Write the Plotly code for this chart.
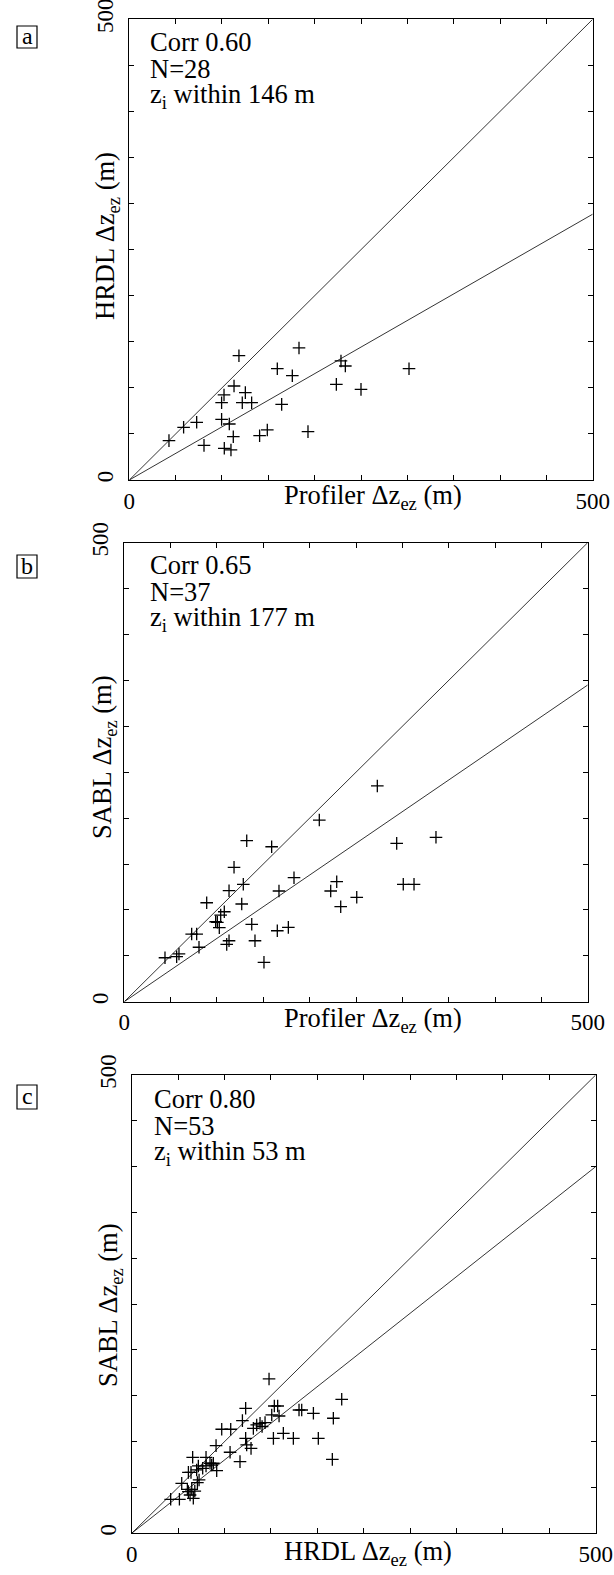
import numpy as np
import plotly.graph_objects as go

W, H = 614, 1575

# ---------------- data ----------------
a_x = [42.8, 58.6, 72.7, 80.6, 99.6, 102.2, 99.6, 107.9, 113.0, 118.3, 121.9, 125.2, 132.0, 112.2,
       102.5, 109.7, 140.6, 148.9, 159.7, 164.4, 175.9, 183.1, 192.8, 223.4, 228.4, 233.1, 250.0, 301.8]
a_y = [42.7, 57.2, 62.6, 37.6, 83.9, 92.3, 65.8, 60.8, 102.0, 134.9, 83.9, 94.8, 83.9, 47.0,
       34.4, 32.6, 48.1, 54.3, 120.8, 82.1, 113.2, 143.3, 52.5, 103.8, 129.2, 123.7, 98.4, 120.8]

b_x = [43.9, 56.5, 59.0, 72.7, 78.1, 80.6, 88.9, 98.6, 100.4, 102.5, 104.0, 107.9, 110.5, 113.0,
       113.0, 118.4, 126.7, 128.4, 132.1, 137.5, 141.0, 150.7, 159.0, 165.1, 166.9, 177.0, 183.1,
       210.4, 222.7, 229.2, 233.5, 250.8, 273.0, 293.9, 301.0, 312.6, 336.3]
b_y = [47.9, 49.0, 52.0, 73.7, 73.7, 59.3, 107.8, 87.1, 86.5, 80.6, 94.4, 98.0, 62.5, 66.4,
       120.9, 146.4, 106.4, 127.9, 175.4, 84.3, 66.4, 42.9, 168.8, 77.3, 120.6, 81.0, 135.1,
       197.9, 120.6, 130.7, 103.5, 113.7, 235.0, 172.5, 127.9, 127.9, 179.1]

c_x = [42.0, 51.4, 53.9, 60.0, 61.1, 62.9, 64.7, 61.1, 65.7, 63.9, 70.0, 71.8, 70.8, 72.6,
       80.1, 80.1, 84.4, 86.2, 88.0, 91.6, 90.9, 97.0, 106.7, 106.0, 116.7, 119.3, 122.8, 122.8,
       123.9, 128.6, 131.1, 134.7, 138.3, 143.7, 148.0, 150.9, 152.7, 153.7, 157.3, 158.8, 163.4,
       174.2, 180.3, 183.2, 195.8, 201.1, 216.2, 217.3, 226.3, 66.4, 76.5, 140.5, 68.0]
c_y = [37.1, 37.1, 54.5, 48.0, 45.5, 41.8, 48.0, 66.5, 82.9, 66.5, 69.1, 73.5, 55.3, 58.2,
       82.9, 73.5, 76.4, 74.5, 76.4, 68.4, 95.6, 113.5, 113.5, 88.4, 78.2, 122.9, 136.4, 103.6,
       96.4, 92.7, 114.5, 118.2, 120.0, 120.7, 168.4, 129.1, 103.6, 138.9, 138.9, 128.0, 109.1,
       103.6, 134.5, 134.5, 130.9, 103.6, 80.7, 125.5, 146.2, 38.2, 70.9, 116.5, 46.0]

fit_slope = [0.577, 0.69, 0.80]
panel_letters = ["a", "b", "c"]
corr_text = ["Corr 0.60", "Corr 0.65", "Corr 0.80"]
n_text = ["N=28", "N=37", "N=53"]
zi_text = ["z<sub>i</sub> within 146 m", "z<sub>i</sub> within 177 m", "z<sub>i</sub> within 53 m"]
x_titles = ["Profiler Δz<sub>ez</sub> (m)", "Profiler Δz<sub>ez</sub> (m)", "HRDL Δz<sub>ez</sub> (m)"]
y_titles = ["HRDL Δz<sub>ez</sub> (m)", "SABL Δz<sub>ez</sub> (m)", "SABL Δz<sub>ez</sub> (m)"]
label_vals = [0, 500]
label_text = ["0", "500"]
minor_step = 50

# ---------------- layout geometry (pixels) ----------------
boxes = [  # left, right, top, bottom of plot areas
    (129.3, 592.7, 19.3, 480.0),
    (124.3, 587.7, 542.7, 1001.7),
    (131.7, 595.7, 1075.0, 1533.3),
]
letter_boxes = [(17, 37, 26, 48), (17, 37, 555, 578), (17, 37, 1085, 1109)]
text_rows = [(148, [42, 69, 96]), (148, [565, 592, 619]), (152, [1099, 1126, 1153])]
xtitle_pos = [(373, 497), (373, 1020), (368, 1553)]
ytitle_pos = [(107, 236), (104, 757), (110, 1305)]

FONT = "Liberation Serif"
px = lambda v: v / W
py = lambda v: 1 - v / H

fig = go.Figure()
datasets = [(a_x, a_y), (b_x, b_y), (c_x, c_y)]
annotations = []
shapes = []
for i, ((xs, ys), (l, r, t, b)) in enumerate(zip(datasets, boxes)):
    sfx = "" if i == 0 else str(i + 1)
    xa, ya = "x" + sfx, "y" + sfx
    line_x = np.array([0, 500])
    fig.add_trace(go.Scatter(x=line_x, y=line_x, mode="lines", xaxis=xa, yaxis=ya,
                             line=dict(color="black", width=0.8), showlegend=False))
    fig.add_trace(go.Scatter(x=line_x, y=fit_slope[i] * line_x, mode="lines", xaxis=xa, yaxis=ya,
                             line=dict(color="black", width=0.8), showlegend=False))
    fig.add_trace(go.Scatter(x=xs, y=ys, mode="markers", xaxis=xa, yaxis=ya,
                             marker=dict(symbol="cross-thin", size=9,
                                         line=dict(color="black", width=1.3)),
                             showlegend=False))
    axcommon = dict(range=[0, 500], showgrid=False, zeroline=False, showline=True,
                    linecolor="black", linewidth=1, mirror="ticks", ticks="inside",
                    ticklen=5, tickwidth=1, tickcolor="black", tickvals=label_vals,
                    ticktext=label_text, tickfont=dict(family=FONT, size=23, color="black"),
                    minor=dict(tick0=0, dtick=minor_step, ticks="inside", ticklen=5,
                               tickwidth=1, tickcolor="black", showgrid=False),
                    ticklabeloverflow="allow", fixedrange=True, automargin=False)
    fig.update_layout(**{
        "xaxis" + sfx: dict(domain=[px(l), px(r)], anchor=ya, **axcommon),
        "yaxis" + sfx: dict(domain=[py(b), py(t)], anchor=xa, tickangle=-90,
                            ticklabelstandoff=6, **axcommon),
    })
    # panel letter box
    bl, br, bt, bb = letter_boxes[i]
    shapes.append(dict(type="rect", xref="paper", yref="paper", x0=px(bl), x1=px(br),
                       y0=py(bb), y1=py(bt), line=dict(color="black", width=1.2)))
    annotations.append(dict(text=panel_letters[i], xref="paper", yref="paper",
                            x=px((bl + br) / 2), y=py((bt + bb) / 2 - 1), showarrow=False,
                            xanchor="center", yanchor="middle",
                            font=dict(family=FONT, size=24, color="black")))
    tx, rows = text_rows[i]
    for txt, yy in zip([corr_text[i], n_text[i], zi_text[i]], rows):
        annotations.append(dict(text=txt, xref="paper", yref="paper", x=px(tx), y=py(yy),
                                showarrow=False, xanchor="left", yanchor="middle",
                                font=dict(family=FONT, size=26.5, color="black")))
    xt = xtitle_pos[i]
    annotations.append(dict(text=x_titles[i], xref="paper", yref="paper", x=px(xt[0]),
                            y=py(xt[1]), showarrow=False, xanchor="center", yanchor="middle",
                            font=dict(family=FONT, size=26.5, color="black")))
    yt = ytitle_pos[i]
    annotations.append(dict(text=y_titles[i], xref="paper", yref="paper", x=px(yt[0]),
                            y=py(yt[1]), showarrow=False, xanchor="center", yanchor="middle",
                            textangle=-90, font=dict(family=FONT, size=26.5, color="black")))

fig.update_layout(template="none", width=W, height=H, margin=dict(l=0, r=0, t=0, b=0),
                  paper_bgcolor="white", plot_bgcolor="white",
                  annotations=annotations, shapes=shapes)
fig.write_html("out.html", include_plotlyjs=True, config={"displayModeBar": False})
